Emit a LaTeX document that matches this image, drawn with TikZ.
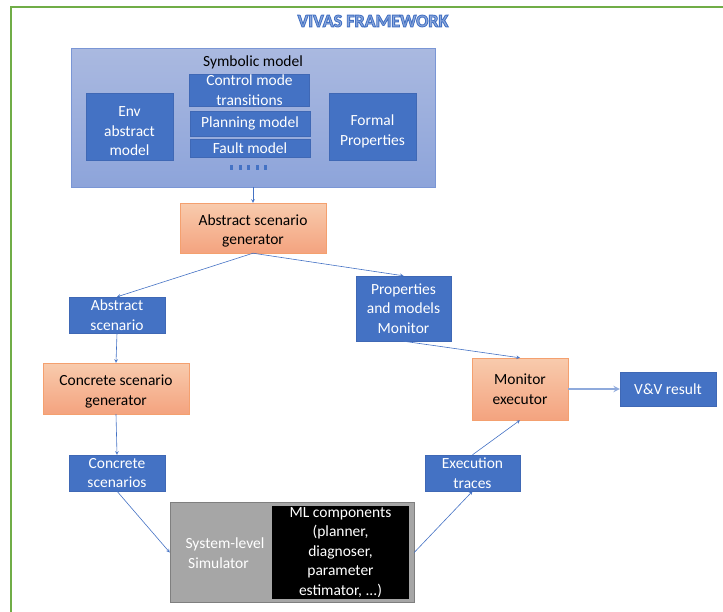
\documentclass[tikz,border=0pt]{standalone}
\usepackage{fontspec}
\setmainfont{Carlito}
\usepackage{tikz}
\usetikzlibrary{arrows}

\definecolor{vblue}{HTML}{4472C4}
\definecolor{vblueline}{HTML}{3F68B5}
\definecolor{symtop}{HTML}{AAB9E0}
\definecolor{symbot}{HTML}{8DA4DA}
\definecolor{symline}{HTML}{7A96D5}
\definecolor{orgtop}{HTML}{F8CBAD}
\definecolor{orgbot}{HTML}{F4A37F}
\definecolor{orgline}{HTML}{F4A06F}
\definecolor{simgray}{HTML}{A6A6A6}
\definecolor{simline}{HTML}{7F7F7F}
\definecolor{framegreen}{HTML}{70AD47}
\definecolor{titleblue}{HTML}{8FAADC}
\definecolor{vvline}{HTML}{8FAADC}

\newcommand{\outlined}[1]{\special{pdf:literal direct 2 Tr 0.9 w 0.267 0.447 0.769 RG}#1\special{pdf:literal direct 0 Tr}}

\begin{document}
\begin{tikzpicture}[x=1pt,y=-1pt,
	font=\fontsize{15.5}{19.5}\selectfont,
	bluebox/.style={draw=vblueline,fill=vblue,text=white,align=center,inner sep=0pt},
	orangebox/.style={draw=orgline,top color=orgtop,bottom color=orgbot,align=center,inner sep=0pt},
	arr/.style={draw=vblue,->,>=stealth,semithick}]
	\useasboundingbox (0,0) rectangle (723,611);
	
	%frame
	\draw[framegreen,line width=2.5pt] (11,800)--(11,7)--(800,7);
	\node (title) at (373,21) {\fontsize{18}{21}\selectfont\bfseries\color{titleblue}\outlined{VIVAS FRAMEWORK}};
	
	%symbolic model
	\node[draw=symline,top color=symtop,bottom color=symbot,minimum width=364pt,minimum height=139pt] (sym) at (253,117.5) {};
	\node (symlabel) at (253,62.5) {Symbolic model};
	\node[bluebox,minimum width=87pt,minimum height=67pt] (env) at (129.5,126.5) {\rule{0pt}{20pt}Env\\abstract\\model};
	\node[bluebox,minimum width=120pt,minimum height=32pt] (ctrl) at (249.5,90) {Control mode\\transitions};
	\node[bluebox,minimum width=120pt,minimum height=25pt] (plan) at (250,123.5) {Planning model};
	\node[bluebox,minimum width=120pt,minimum height=18pt] (fault) at (250,148) {Fault model};
	\node[bluebox,minimum width=87pt,minimum height=67pt] (formal) at (372.5,126.5) {\rule{0pt}{20pt}Formal\\Properties};
	\foreach \x in {231.5,240,248.5,257,265.5}
		\fill[vblue] (\x-1.5,165) rectangle (\x+1.5,169.5);
	
	%generators and results
	\node[orangebox,minimum width=146pt,minimum height=50pt] (asg) at (253,228) {\rule{0pt}{17pt}Abstract scenario\\generator};
	\node[bluebox,minimum width=96pt,minimum height=36pt] (absc) at (117,315) {Abstract\\scenario};
	\node[bluebox,minimum width=95pt,minimum height=65pt] (prop) at (403.5,308.5) {Properties\\and models\\Monitor};
	\node[orangebox,minimum width=146pt,minimum height=51pt] (csg) at (116,388.5) {\rule{0pt}{17pt}Concrete scenario\\generator};
	\node[orangebox,minimum width=96pt,minimum height=62pt] (monex) at (520,389) {Monitor\\executor};
	\node[bluebox,minimum width=96pt,minimum height=34pt] (vv) at (668,389) {V\&V result};
	\node[bluebox,minimum width=96pt,minimum height=36pt] (concs) at (117,473) {Concrete\\scenarios};
	\node[bluebox,minimum width=95pt,minimum height=36pt] (exectr) at (472.5,473) {Execution\\traces};
	
	%simulator
	\node[draw=simline,fill=simgray,minimum width=244pt,minimum height=100pt,inner sep=0pt] (sim) at (292,552.5) {};
	\node[fill=black,text=white,minimum width=137pt,minimum height=93pt,align=center,inner sep=0pt] (ml) at (340.5,552.5) {ML components\\(planner,\\diagnoser,\\parameter\\estimator, ...)};
	\node[text=white,align=left] (simlabel) at (225,553) {System-level\\\,Simulator};
	
	%arrows
	\draw[arr] (sym.south)--(asg.north);
	\draw[arr] (asg.south)--(absc.north);
	\draw[arr] (asg.south)--(prop.north);
	\draw[arr] (absc.south)--(csg.north);
	\draw[arr] (prop.south)--(monex.north);
	\draw[arr] (csg.south)--(concs.north);
	\draw[arr] (concs.south)--(sim.west);
	\draw[arr] (sim.east)--(exectr.south);
	\draw[arr] (exectr.north)--(monex.south);
	\draw[arr,draw=vvline,line width=1.8pt] (monex.east)--(vv.west);
\end{tikzpicture}
\end{document}
